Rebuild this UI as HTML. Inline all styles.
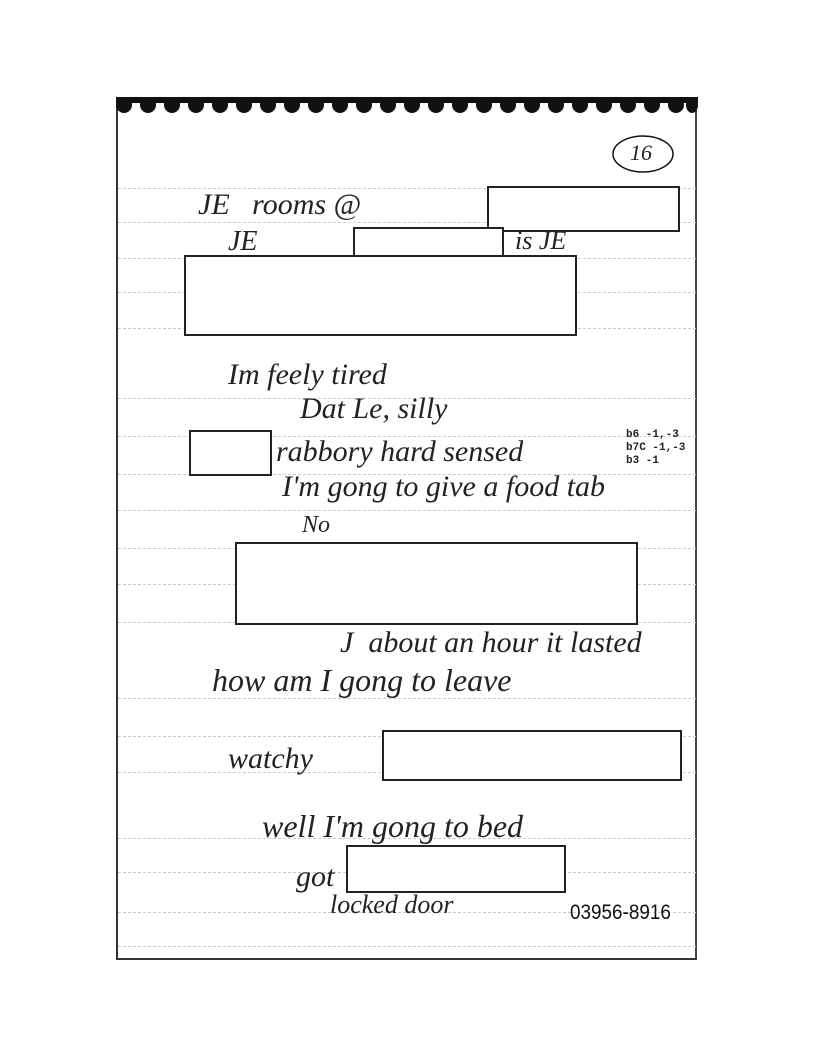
<!DOCTYPE html>
<html><head><meta charset="utf-8"><style>
body{margin:0;width:816px;height:1056px;background:#fff;position:relative;overflow:hidden;font-family:"Liberation Serif",serif}
.b{position:absolute;border:2px solid #222;background:#fff;box-sizing:border-box}
.h{position:absolute;font-style:italic;color:#222;white-space:nowrap;font-family:"Liberation Serif",serif}
.l{position:absolute;left:118px;width:578px;border-top:1px dashed #ccc}
.m{position:absolute;font-family:"Liberation Mono",monospace;font-size:11px;font-weight:bold;color:#222}
</style></head><body>
<div style="position:absolute;left:116px;top:100px;width:2px;height:860px;background:#333"></div>
<div style="position:absolute;left:695px;top:100px;width:2px;height:860px;background:#444"></div>
<div style="position:absolute;left:116px;top:958px;width:581px;height:2px;background:#333"></div>
<svg style="position:absolute;left:116px;top:97px" width="582" height="20">
<rect x="0" y="0" width="582" height="6" fill="#111"/>
<g fill="#111">
<ellipse cx="8" cy="8" rx="8" ry="8"/><ellipse cx="32" cy="8" rx="8" ry="8"/><ellipse cx="56" cy="8" rx="8" ry="8"/><ellipse cx="80" cy="8" rx="8" ry="8"/><ellipse cx="104" cy="8" rx="8" ry="8"/><ellipse cx="128" cy="8" rx="8" ry="8"/><ellipse cx="152" cy="8" rx="8" ry="8"/><ellipse cx="176" cy="8" rx="8" ry="8"/><ellipse cx="200" cy="8" rx="8" ry="8"/><ellipse cx="224" cy="8" rx="8" ry="8"/><ellipse cx="248" cy="8" rx="8" ry="8"/><ellipse cx="272" cy="8" rx="8" ry="8"/><ellipse cx="296" cy="8" rx="8" ry="8"/><ellipse cx="320" cy="8" rx="8" ry="8"/><ellipse cx="344" cy="8" rx="8" ry="8"/><ellipse cx="368" cy="8" rx="8" ry="8"/><ellipse cx="392" cy="8" rx="8" ry="8"/><ellipse cx="416" cy="8" rx="8" ry="8"/><ellipse cx="440" cy="8" rx="8" ry="8"/><ellipse cx="464" cy="8" rx="8" ry="8"/><ellipse cx="488" cy="8" rx="8" ry="8"/><ellipse cx="512" cy="8" rx="8" ry="8"/><ellipse cx="536" cy="8" rx="8" ry="8"/><ellipse cx="560" cy="8" rx="8" ry="8"/><ellipse cx="576" cy="8" rx="6" ry="8"/>
</g></svg>
<div class="l" style="top:188px"></div><div class="l" style="top:222px"></div><div class="l" style="top:258px"></div>
<div class="l" style="top:292px"></div><div class="l" style="top:328px"></div><div class="l" style="top:398px"></div>
<div class="l" style="top:436px"></div><div class="l" style="top:474px"></div><div class="l" style="top:510px"></div>
<div class="l" style="top:548px"></div><div class="l" style="top:584px"></div><div class="l" style="top:622px"></div>
<div class="l" style="top:698px"></div><div class="l" style="top:736px"></div><div class="l" style="top:772px"></div>
<div class="l" style="top:838px"></div><div class="l" style="top:872px"></div><div class="l" style="top:912px"></div><div class="l" style="top:946px"></div>
<svg style="position:absolute;left:608px;top:132px" width="70" height="44"><ellipse cx="35" cy="22" rx="30" ry="18" fill="none" stroke="#111" stroke-width="1.5"/></svg>
<div class="h" style="left:630px;top:140px;font-size:22px">16</div>
<div class="h" style="left:198px;top:188px;font-size:30px">JE&nbsp;&nbsp; rooms @</div>
<div class="h" style="left:228px;top:226px;font-size:28px">JE</div>
<div class="h" style="left:515px;top:226px;font-size:26px">is JE</div>
<div class="h" style="left:228px;top:358px;font-size:30px">Im feely tired</div>
<div class="h" style="left:300px;top:392px;font-size:30px">Dat Le, silly</div>
<div class="h" style="left:276px;top:435px;font-size:30px">rabbory hard sensed</div>
<div class="h" style="left:282px;top:470px;font-size:30px">I'm gong to give a food tab</div>
<div class="h" style="left:302px;top:512px;font-size:24px">No</div>
<div class="h" style="left:340px;top:626px;font-size:30px">J&nbsp; about an hour it lasted</div>
<div class="h" style="left:212px;top:662px;font-size:32px">how am I gong to leave</div>
<div class="h" style="left:228px;top:742px;font-size:30px">watchy</div>
<div class="h" style="left:262px;top:808px;font-size:32px">well I'm gong to bed</div>
<div class="h" style="left:296px;top:860px;font-size:30px">got</div>
<div class="h" style="left:330px;top:890px;font-size:26px">locked door</div>
<div class="m" style="left:626px;top:429px">b6 -1,-3</div>
<div class="m" style="left:626px;top:442px">b7C -1,-3</div>
<div class="m" style="left:626px;top:455px">b3 -1</div>
<div style="position:absolute;left:570px;top:901px;font-family:'Liberation Sans',sans-serif;font-size:21px;color:#111;transform:scaleX(0.9);transform-origin:left">03956-8916</div>
<div class="b" style="left:487px;top:186px;width:193px;height:46px"></div>
<div class="b" style="left:353px;top:227px;width:151px;height:31px"></div>
<div class="b" style="left:184px;top:255px;width:393px;height:81px"></div>
<div class="b" style="left:189px;top:430px;width:83px;height:46px"></div>
<div class="b" style="left:235px;top:542px;width:403px;height:83px"></div>
<div class="b" style="left:382px;top:730px;width:300px;height:51px"></div>
<div class="b" style="left:346px;top:845px;width:220px;height:48px"></div>
</body></html>
